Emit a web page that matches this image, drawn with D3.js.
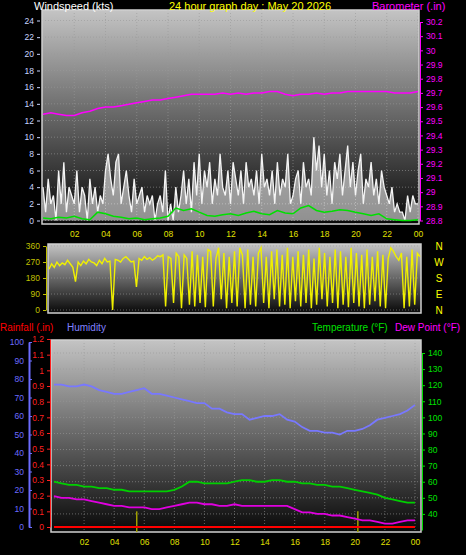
<!DOCTYPE html>
<html><head><meta charset="utf-8">
<script src="https://cdn.jsdelivr.net/npm/d3@7.9.0/dist/d3.min.js"></script>
<style>body{margin:0;background:#000}svg{display:block;font-family:"Liberation Sans",Arial,sans-serif}</style>
</head><body><svg id="chart" width="466" height="555"></svg>
<script>
// 10-minute gusts (kts)
const gust = [4,1,5,2,3,0,6,2,7,1,4,3,2,6,1,4,3,0,5,2,4,1,3,2,
  6,8,5,3,7,8,2,4,6,3,1,5,2,3,4,1,3,2,3,0,2,3,1,6,
  0,2,0,4,1,3,6,2,5,1,7,3,8,2,6,4,7,2,5,3,8,4,3,6,
  2,7,5,3,6,2,7,4,5,3,6,2,8,4,5,3,6,2,7,3,5,4,8,2,
  3,5,6,2,7,4,5,3,10,6,9,4,8,3,6,2,7,5,8,3,6,9,4,7,
  3,6,8,2,5,4,7,3,5,2,6,4,3,2,4,1,2,1,1,0,3,1,3,2,2];
// 10-minute wind direction (deg)
const dir = [230,260,240,270,250,265,255,280,260,240,160,270,250,275,260,285,270,265,250,280,260,290,270,275,
  0,285,280,270,290,300,285,270,275,130,290,280,300,285,295,280,290,305,300,310,20,300,290,40,
  320,300,10,310,290,30,330,20,310,40,300,15,340,330,20,290,350,60,320,10,300,40,330,20,
  350,310,10,340,30,300,20,320,350,40,300,10,330,60,340,20,310,30,350,10,300,50,330,20,
  310,40,340,10,290,30,350,60,320,20,300,40,340,10,330,30,300,15,350,40,320,20,310,10,
  340,30,300,50,330,20,310,10,290,350,330,300,280,320,10,300,20,340,30,320,300];
// half-hourly series
const windAvg = [0.3,0.2,0.4,0.3,0.5,0.2,0.1,1,0.8,0.5,0.4,0.2,0.3,0.1,0.2,0.3,0.5,1.5,1.2,1.4,1,0.6,0.5,0.7,
  0.8,0.6,0.9,1.1,0.8,0.7,1.2,0.9,0.8,1.5,1.8,1.2,1,1.1,1.3,1.2,1,0.8,0.6,0.8,0.2,0.1,0,0,0.1];
const baro = [29.55,29.56,29.55,29.54,29.54,29.56,29.57,29.59,29.60,29.60,29.61,29.62,29.63,29.64,29.65,29.65,29.66,29.67,
  29.68,29.69,29.69,29.69,29.69,29.70,29.69,29.70,29.69,29.70,29.70,29.71,29.71,29.69,29.68,29.69,29.69,29.70,
  29.69,29.70,29.70,29.71,29.71,29.71,29.71,29.71,29.71,29.70,29.70,29.70,29.71];
const humidity = [77,77,76,76,77,76,74,73,72,72,73,74,75,72,72,71,70,69,68,67,67,64,64,62,
  61,61,58,59,60,60,61,58,57,54,52,52,51,51,50,52,52,53,55,58,59,60,61,63,66];
const temp = [60,59,58,58,57,57,56,56,55,55,54,54,54,54,54,54,55,57,60,60,59,59,59,59,
  60,61,61,60,60,61,61,60,60,59,59,58,58,57,57,56,55,54,53,52,50,49,48,47,47];
const dew = [51,50,50,49,49,48,47,46,45,45,44,44,44,43,43,44,45,46,47,47,46,46,45,45,
  46,45,45,45,45,45,45,45,43,41,41,40,40,39,39,38,37,36,36,35,34,34,35,36,36];
const rainBars = [5.5, 20.2];
const hourTicks = [2,4,6,8,10,12,14,16,18,20,22,24];
const windTicks = d3.range(0,25,2);
const baroTicks = [28.8,28.9,29,29.1,29.2,29.3,29.4,29.5,29.6,29.7,29.8,29.9,30,30.1,30.2];
const dirTicks = [0,90,180,270,360];
const compass = ["N","W","S","E","N"];
const humTicks = d3.range(0,101,10);
const rainTicks = [0,0.1,0.2,0.3,0.4,0.5,0.6,0.7,0.8,0.9,1,1.1,1.2];
const tempTicks = [40,50,60,70,80,90,100,110,120,130,140];

const svg = d3.select("#chart");
const defs = svg.append("defs");
const g = defs.append("linearGradient").attr("id","bg").attr("x1",0).attr("y1",0).attr("x2",0).attr("y2",1);
g.append("stop").attr("offset",0).attr("stop-color","#c4c4c4");
g.append("stop").attr("offset",1).attr("stop-color","#080808");
const fmtH = h => String(h % 24).padStart(2,"0");
const tOf = (arr) => arr.map((v,i) => [i*24/(arr.length-1), v]);

function panel(x0,x1,y0,y1,vgrid,hgridYs){
  svg.append("rect").attr("x",x0).attr("y",y0).attr("width",x1-x0).attr("height",y1-y0).attr("fill","url(#bg)");
  const gg = svg.append("g").attr("stroke","#9a9a9a").attr("stroke-dasharray","1,2").attr("stroke-width",1).attr("opacity",0.6);
  hgridYs.forEach(y => gg.append("line").attr("x1",x0).attr("x2",x1).attr("y1",y).attr("y2",y));
  vgrid.forEach(x => gg.append("line").attr("x1",x).attr("x2",x).attr("y1",y0).attr("y2",y1));
  svg.append("rect").attr("x",x0).attr("y",y0).attr("width",x1-x0).attr("height",y1-y0)
    .attr("fill","none").attr("stroke","#d0d0d0").attr("stroke-width",1.5);
}
function text(x,y,s,col,anchor,size){
  svg.append("text").attr("x",x).attr("y",y).attr("fill",col).attr("text-anchor",anchor||"start")
    .attr("font-size",size||9).text(s);
}
function axisStyle(sel,col,size){
  sel.selectAll("path,line").attr("stroke",col);
  sel.selectAll("text").attr("fill",col).attr("font-size",size||9).attr("font-family","Liberation Sans,Arial,sans-serif");
}

// ---------- top panel ----------
const x1 = d3.scaleLinear().domain([0,24]).range([43,418]);
const yW = d3.scaleLinear().domain([0,24]).range([220.5,20.5]);
const yB = d3.scaleLinear().domain([28.8,30.2]).range([220.5,22]);
panel(42,419,10,224, hourTicks.map(x1), windTicks.map(yW));
text(34,10,"Windspeed (kts)","#ffffff","start",11);
text(250,10,"24 hour graph day : May 20 2026","#ffff00","middle",11);
text(372,10,"Barometer (.in)","#ff00ff","start",11);
const aL = svg.append("g").attr("transform","translate(40,0)")
  .call(d3.axisLeft(yW).tickValues(windTicks).tickSize(3).tickSizeOuter(0));
aL.select(".domain").remove();
axisStyle(aL,"#c8d4ff",8.5);
const aR = svg.append("g").attr("transform","translate(420,0)")
  .call(d3.axisRight(yB).tickValues(baroTicks).tickFormat(d3.format("")).tickSize(3).tickSizeOuter(0));
axisStyle(aR,"#ff00ff",8.5);
const aX = svg.append("g").attr("transform","translate(0,224)")
  .call(d3.axisBottom(x1).tickValues(hourTicks).tickFormat(fmtH).tickSize(0).tickPadding(7));
aX.select(".domain").remove();
axisStyle(aX,"#e0e000",8.5);
svg.append("path").datum(tOf(gust)).attr("fill","#ffffff").attr("opacity",0.55)
  .attr("d",d3.area().x(d=>x1(d[0])).y0(yW(0)).y1(d=>yW(d[1])));
svg.append("path").datum(tOf(gust)).attr("fill","none").attr("stroke","#f4f4f4").attr("stroke-width",1.3)
  .attr("d",d3.line().x(d=>x1(d[0])).y(d=>yW(d[1])));
svg.append("path").datum(tOf(windAvg)).attr("fill","none").attr("stroke","#00e000").attr("stroke-width",1.5)
  .attr("d",d3.line().x(d=>x1(d[0])).y(d=>yW(d[1])));
svg.append("path").datum(tOf(baro)).attr("fill","none").attr("stroke","#ff00ff").attr("stroke-width",1.5)
  .attr("d",d3.line().x(d=>x1(d[0])).y(d=>yB(d[1])));

// ---------- direction panel ----------
const x2 = d3.scaleLinear().domain([0,24]).range([49,420]);
const yD = d3.scaleLinear().domain([0,360]).range([310,246]);
panel(48,421,244,313, [], dirTicks.map(yD));
const aD = svg.append("g").attr("transform","translate(46,0)")
  .call(d3.axisLeft(yD).tickValues(dirTicks).tickSize(3).tickSizeOuter(0));
axisStyle(aD,"#c0c000",8.5);
compass.forEach((c,i) => text(439, yD(dirTicks[4-i])+4, c, "#ffff00","middle",10));
svg.append("path").datum(tOf(dir)).attr("fill","none").attr("stroke","#f0f000").attr("stroke-width",1.4)
  .attr("d",d3.line().x(d=>x2(d[0])).y(d=>yD(d[1])));

// ---------- bottom panel ----------
text(0,331,"Rainfall (.in)","#ff0000","start",10);
text(67,331,"Humidity","#8080ff","start",10);
text(312,331,"Temperature (°F)","#00e000","start",10);
text(395,331,"Dew Point (°F)","#ff00ff","start",10);
const x3 = d3.scaleLinear().domain([0,24]).range([54,415]);
const yH = d3.scaleLinear().domain([0,100]).range([527,342]);
const yR = d3.scaleLinear().domain([0,1.2]).range([527,339]);
const yT = d3.scaleLinear().domain([30,140]).range([530,353]);
panel(51,421,340,532, hourTicks.map(x3), tempTicks.map(yT));
const aH = svg.append("g").attr("transform","translate(29,0)")
  .call(d3.axisRight(yH).tickValues(humTicks).tickSize(3).tickSizeOuter(0));
aH.selectAll("text").attr("x",-5).attr("text-anchor","end");
axisStyle(aH,"#6c6cff",8.5);
aH.select(".domain").attr("stroke-width",2);
const aRn = svg.append("g").attr("transform","translate(50,0)")
  .call(d3.axisLeft(yR).tickValues(rainTicks).tickFormat(d3.format("")).tickSize(3).tickSizeOuter(0));
axisStyle(aRn,"#ff2020",8.5);
const aT = svg.append("g").attr("transform","translate(422,0)")
  .call(d3.axisRight(yT).tickValues(tempTicks).tickSize(3).tickSizeOuter(0));
axisStyle(aT,"#00e000",8.5);
const aX3 = svg.append("g").attr("transform","translate(0,532)")
  .call(d3.axisBottom(x3).tickValues(hourTicks).tickFormat(fmtH).tickSize(0).tickPadding(7));
aX3.select(".domain").remove();
axisStyle(aX3,"#e0e000",8.5);
svg.selectAll(".rainbar").data(rainBars).join("line")
  .attr("x1",d=>x3(d)).attr("x2",d=>x3(d)).attr("y1",yR(0.1)).attr("y2",532)
  .attr("stroke","#a0a000").attr("stroke-width",1.5);
svg.append("line").attr("x1",x3(0)).attr("x2",x3(24)).attr("y1",yR(0)).attr("y2",yR(0))
  .attr("stroke","#ff0000").attr("stroke-width",2);
[[humidity,yH,"#7878ff"],[temp,yT,"#00d000"],[dew,yT,"#e000e0"]].forEach(([arr,ys,col]) => {
  svg.append("path").datum(tOf(arr)).attr("fill","none").attr("stroke",col).attr("stroke-width",1.8)
    .attr("d",d3.line().x(d=>x3(d[0])).y(d=>ys(d[1])));
});
</script></body></html>
